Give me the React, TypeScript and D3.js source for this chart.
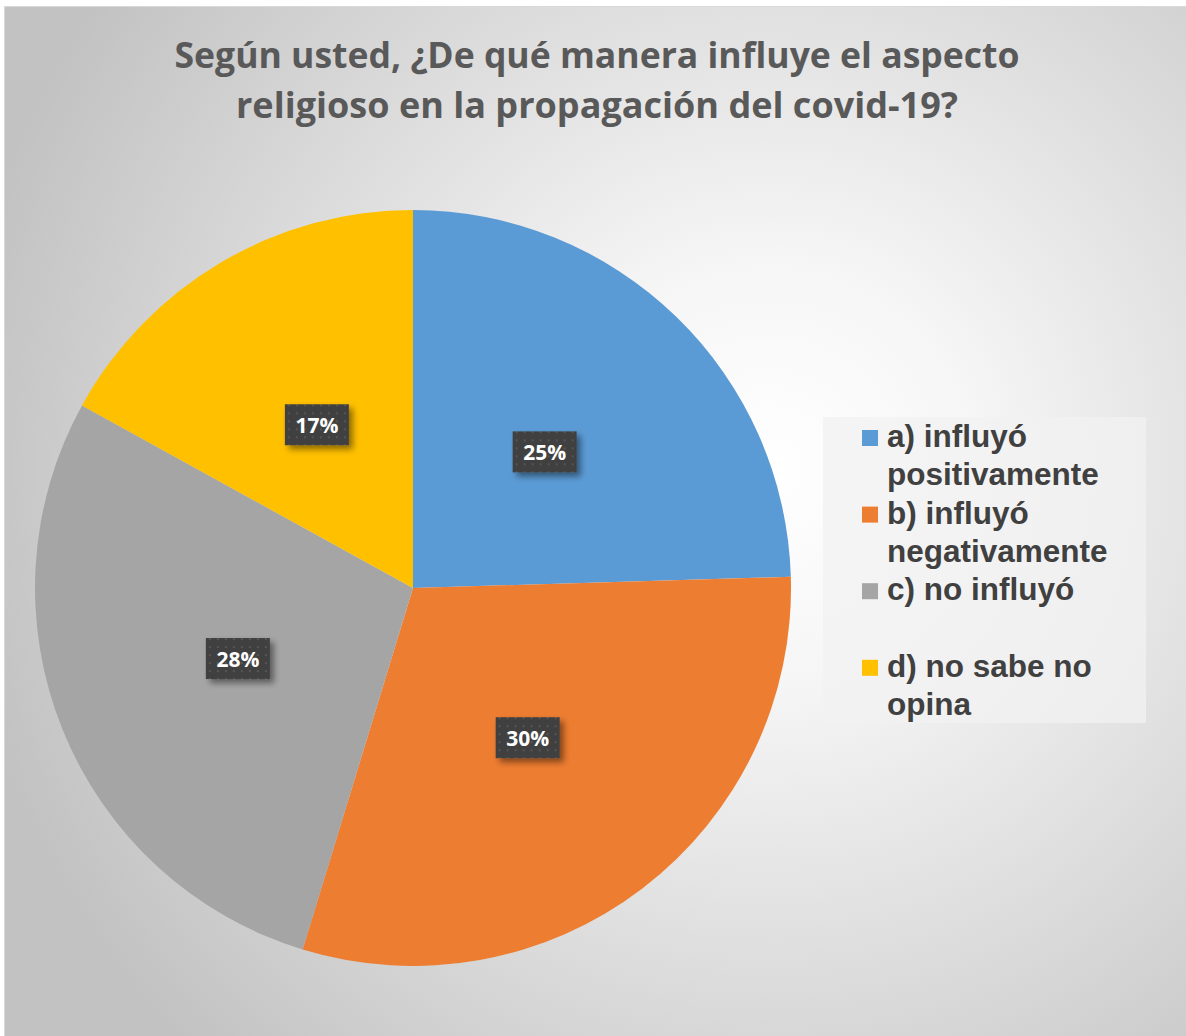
import React, { useEffect, useRef } from "react";
import * as d3 from "d3";

const categories = [
  "a) influyó positivamente",
  "b) influyó negativamente",
  "c) no influyó",
  "d) no sabe no opina",
];
// respuestas (n = 53)
const counts = [13, 16, 15, 9];
const colors = ["#5B9BD5", "#ED7D31", "#A5A5A5", "#FFC000"];
const legendLines = [
  ["a) influyó", "positivamente"],
  ["b) influyó", "negativamente"],
  ["c) no influyó", ""],
  ["d) no sabe no", "opina"],
];
const titleLines = [
  "Según usted, ¿De qué manera influye el aspecto",
  "religioso en la propagación del covid-19?",
];

const W = 1186;
const H = 1036;

const PieChart = () => {
  const ref = useRef<SVGSVGElement>(null);

  useEffect(() => {
    const svg = d3.select(ref.current).attr("width", W).attr("height", H);
    svg.selectAll("*").remove();

    const defs = svg.append("defs");
    const grad = defs
      .append("radialGradient")
      .attr("id", "bg")
      .attr("gradientUnits", "userSpaceOnUse")
      .attr("cx", 770)
      .attr("cy", 470)
      .attr("r", 820);
    grad.append("stop").attr("offset", 0).attr("stop-color", "#ffffff");
    grad.append("stop").attr("offset", 0.25).attr("stop-color", "#f6f6f6");
    grad.append("stop").attr("offset", 1).attr("stop-color", "#c2c2c2");

    const pat = defs
      .append("pattern")
      .attr("id", "dots")
      .attr("width", 8)
      .attr("height", 8)
      .attr("patternUnits", "userSpaceOnUse");
    pat.append("rect").attr("width", 8).attr("height", 8).attr("fill", "#404040");
    pat.append("rect").attr("x", 3).attr("y", 3).attr("width", 2).attr("height", 2).attr("fill", "#555555");

    const sh = defs
      .append("filter")
      .attr("id", "shadow")
      .attr("x", "-30%")
      .attr("y", "-30%")
      .attr("width", "170%")
      .attr("height", "170%");
    sh.append("feDropShadow")
      .attr("dx", 4)
      .attr("dy", 4)
      .attr("stdDeviation", 3)
      .attr("flood-color", "#000")
      .attr("flood-opacity", 0.45);

    // chart area
    svg
      .append("rect")
      .attr("x", 4.5)
      .attr("y", 6.5)
      .attr("width", W)
      .attr("height", H)
      .attr("fill", "url(#bg)")
      .attr("stroke", "#d9d9d9");

    // title
    svg
      .append("g")
      .selectAll("text")
      .data(titleLines)
      .join("text")
      .attr("x", 597)
      .attr("y", (d, i) => 68 + i * 50)
      .attr("text-anchor", "middle")
      .attr("textLength", (d, i) => (i === 0 ? 845 : 722))
      .attr("lengthAdjust", "spacingAndGlyphs")
      .attr("font-family", "'Open Sans', sans-serif")
      .attr("font-weight", 700)
      .attr("font-size", 35)
      .attr("fill", "#595959")
      .text((d) => d);

    // pie
    const cx = 413;
    const cy = 588;
    const r = 378;
    const pie = d3.pie<number>().sort(null)(counts);
    const arc = d3.arc<d3.PieArcDatum<number>>().innerRadius(0).outerRadius(r);
    const total = d3.sum(counts);
    const pct = d3.format(".0%");

    const g = svg.append("g").attr("transform", `translate(${cx},${cy})`);
    g.selectAll("path")
      .data(pie)
      .join("path")
      .attr("d", arc)
      .attr("fill", (d, i) => colors[i]);

    const labels = g
      .selectAll("g.lbl")
      .data(pie)
      .join("g")
      .attr("class", "lbl")
      .attr("transform", (d) => `translate(${arc.centroid(d)})`);
    labels
      .append("rect")
      .attr("x", -32)
      .attr("y", -21)
      .attr("width", 64)
      .attr("height", 41)
      .attr("fill", "url(#dots)")
      .attr("filter", "url(#shadow)");
    labels
      .append("text")
      .attr("text-anchor", "middle")
      .attr("y", 7.5)
      .attr("font-family", "'Open Sans', sans-serif")
      .attr("font-weight", 700)
      .attr("font-size", 21)
      .attr("fill", "#ffffff")
      .text((d) => pct(d.data / total));

    // legend
    const lg = svg.append("g");
    lg.append("rect")
      .attr("x", 823)
      .attr("y", 417)
      .attr("width", 323)
      .attr("height", 306)
      .attr("fill", "#f2f2f2")
      .attr("fill-opacity", 0.75);

    const item = lg
      .selectAll("g.item")
      .data(categories)
      .join("g")
      .attr("class", "item")
      .attr("transform", (d, i) => `translate(862,${447 + i * 76.6})`);
    item
      .append("rect")
      .attr("y", -17)
      .attr("width", 16)
      .attr("height", 16)
      .attr("fill", (d, i) => colors[i]);
    item
      .selectAll("text")
      .data((d, i) => legendLines[i])
      .join("text")
      .attr("x", 25)
      .attr("y", (d, j) => j * 38)
      .attr("font-family", "'Liberation Sans', Arial, sans-serif")
      .attr("font-weight", 700)
      .attr("font-size", 31.5)
      .attr("fill", "#404040")
      .text((d) => d);
  }, []);

  return (
    <svg
      ref={ref}
      style={{ position: "absolute", left: 0, top: 0, display: "block" }}
    ></svg>
  );
};

export default function App() {
  return <PieChart />;
}
